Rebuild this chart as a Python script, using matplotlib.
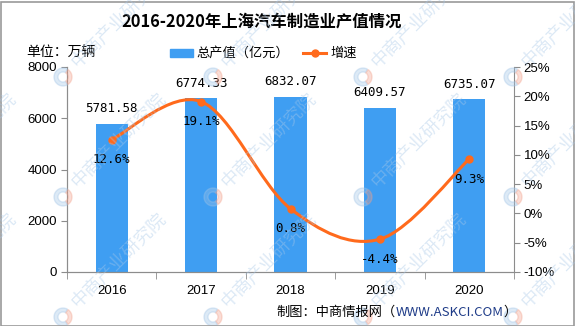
import matplotlib.pyplot as plt
from matplotlib.path import Path
from matplotlib.patches import PathPatch, Wedge, Rectangle
from matplotlib.lines import Line2D
import numpy as np

plt.rcParams['font.family'] = ['Noto Sans CJK SC', 'DejaVu Sans']

years = ['2016', '2017', '2018', '2019', '2020']
output_value = [5781.58, 6774.33, 6832.07, 6409.57, 6735.07]   # 亿元
growth = [12.6, 19.1, 0.8, -4.4, 9.3]                           # %

BAR_C = '#3f9ef2'
LINE_C = '#ff6a1c'
AXIS_C = '#8c8c8c'
W, H = 575, 326


def smooth_path(xs, ys):
    # catmull-rom style bezier through the points (like a spreadsheet "smoothed line")
    p = np.column_stack([xs, ys]).astype(float)
    n = len(p)
    verts = [p[0]]
    codes = [Path.MOVETO]
    for i in range(n - 1):
        p0 = p[max(i - 1, 0)]
        p1, p2 = p[i], p[i + 1]
        p3 = p[min(i + 2, n - 1)]
        verts += [p1 + (p2 - p0) / 6, p2 - (p3 - p1) / 6, p2]
        codes += [Path.CURVE4] * 3
    return Path(verts, codes)


fig = plt.figure(figsize=(W / 100, H / 100), dpi=100)
ax = fig.add_axes([67 / W, 1 - 272 / H, (514 - 67) / W, (272 - 67) / H])
ax2 = ax.twinx()

x = np.arange(len(years))
ax.bar(x, output_value, width=0.36, color=BAR_C, zorder=2)
ax.set_xlim(-0.5, len(years) - 0.5)
ax.set_ylim(0, 8000)
ax.set_yticks(range(0, 8001, 2000))
ax.set_xticks(x)
ax.set_xticklabels(years)
ax.set_xticks(np.arange(-0.5, len(years)), minor=True)
ax.tick_params(axis='x', which='major', length=0, pad=9)
ax.tick_params(axis='x', which='minor', length=5, color=AXIS_C)
ax.tick_params(axis='y', length=4, color=AXIS_C, pad=3)
for lab in ax.get_xticklabels() + ax.get_yticklabels():
    lab.set_fontfamily('Liberation Sans')
    lab.set_fontsize(9.5)

ax2.set_ylim(-10, 25)
ax2.set_yticks(range(-10, 26, 5))
ax2.set_yticklabels([f'{v}%' for v in range(-10, 26, 5)])
ax2.tick_params(axis='y', length=4, color=AXIS_C, pad=3)
for lab in ax2.get_yticklabels():
    lab.set_fontfamily('Liberation Sans')
    lab.set_fontsize(9.5)

for a in (ax, ax2):
    a.spines['top'].set_visible(False)
    for s in ('left', 'right', 'bottom'):
        a.spines[s].set_color(AXIS_C)
ax.spines['right'].set_visible(False)

ax2.add_patch(PathPatch(smooth_path(x, growth), fill=False, edgecolor=LINE_C,
                        lw=2.2, zorder=3))
ax2.plot(x, growth, 'o', color=LINE_C, ms=5, zorder=4)

for xi, v in zip(x, output_value):
    ax.annotate(f'{v:.2f}', (xi, v), xytext=(0, 11), textcoords='offset points',
                ha='center', va='center', fontsize=9, family='DejaVu Sans Mono')
for xi, v in zip(x, growth):
    ax2.annotate(f'{v}%', (xi, v), xytext=(0, -14.5), textcoords='offset points',
                 ha='center', va='center', fontsize=9, family='DejaVu Sans Mono',
                 zorder=5)

fig.text(262 / W, 1 - 22 / H, '2016-2020年上海汽车制造业产值情况', ha='center',
         va='center', fontsize=11.8, fontweight='bold')
fig.text(26 / W, 1 - 53 / H, '单位：万辆', ha='left', va='center', fontsize=10)

# legend drawn by hand
fig.patches.append(Rectangle((170 / W, 1 - 57 / H), 23 / W, 8 / H, color=BAR_C,
                             transform=fig.transFigure))
fig.text(196 / W, 1 - 53 / H, '总产值（亿元）', ha='left', va='center', fontsize=9.5)
fig.lines.append(Line2D([303 / W, 326 / W], [1 - 53 / H] * 2, color=LINE_C, lw=2.2,
                        transform=fig.transFigure))
fig.lines.append(Line2D([314.5 / W], [1 - 53 / H], marker='o', ms=5, color=LINE_C,
                        transform=fig.transFigure))
fig.text(330 / W, 1 - 53 / H, '增速', ha='left', va='center', fontsize=9.5)

# footer
t1 = fig.text(276 / W, 1 - 312 / H, '制图：中商情报网（', ha='left', va='center',
              fontsize=9.5)
t2 = fig.text(0, 0, 'WWW.ASKCI.COM', fontsize=9.5, color='#1f3c88')
t3 = fig.text(0, 0, '）', fontsize=9.5)
fig.canvas.draw()
r = fig.canvas.get_renderer()
bb1 = t1.get_window_extent(r).transformed(fig.transFigure.inverted())
t2.set_position((bb1.x1, 1 - 312 / H))
t2.set_va('center')
fig.canvas.draw()
bb2 = t2.get_window_extent(r).transformed(fig.transFigure.inverted())
t3.set_position((bb2.x1, 1 - 312 / H))
t3.set_va('center')

# watermark
for cy in (77, 197, 317):
    for cx in (-87, 63, 213, 363, 513):
        fig.patches.append(Wedge((cx, H - cy), 9, 60, 300, width=4, color='#9fc3e6',
                                 alpha=0.35, transform=None))
        fig.patches.append(Wedge((cx, H - cy), 9, -55, 55, width=4, color='#f2a08a',
                                 alpha=0.35, transform=None))
        fig.text((cx + 12) / W, 1 - (cy - 12) / H, '中商产业研究院', rotation=45,
                 rotation_mode='anchor', ha='left', va='center', fontsize=13,
                 color='#a8c8e8', alpha=0.4)

# outer frame
fig.patches.append(Rectangle((0.5 / W, 0.5 / H), 1 - 2 / W, 1 - 2 / H, fill=False,
                             edgecolor='#9a9a9a', lw=1.2, transform=fig.transFigure))

fig.savefig('out.png', dpi=100)
